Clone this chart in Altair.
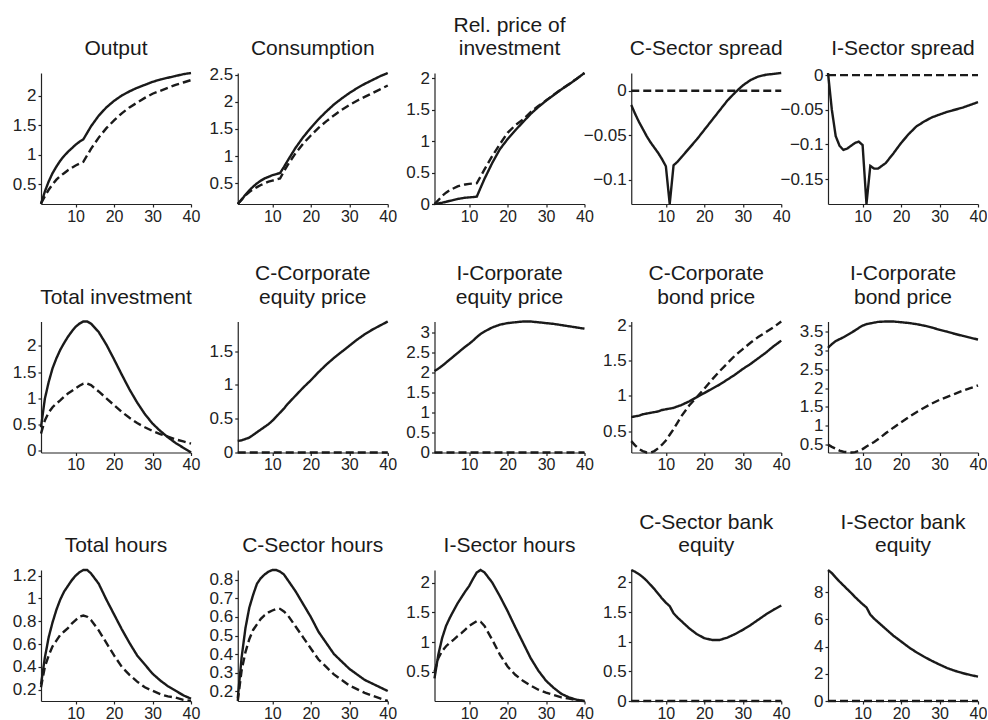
import altair as alt
import pandas as pd

# ---------------- data ----------------
T = [1, 2, 3, 4, 5, 6, 7, 8, 9, 10, 11, 12, 13, 14, 16, 18, 20, 22, 24, 26, 28, 30, 32, 34, 36, 38, 40]
ZERO = [0.0] * len(T)
X_TICKS = [10, 20, 30, 40]

output_solid = [0.17, 0.38, 0.55, 0.69, 0.80, 0.90, 0.98, 1.05, 1.11, 1.17, 1.22, 1.26, 1.37, 1.48, 1.66, 1.80, 1.91, 2.00, 2.07, 2.13, 2.18, 2.23, 2.27, 2.30, 2.33, 2.36, 2.38]
output_dashed = [0.18, 0.30, 0.41, 0.50, 0.58, 0.64, 0.69, 0.74, 0.78, 0.82, 0.85, 0.88, 0.99, 1.10, 1.29, 1.45, 1.58, 1.70, 1.80, 1.88, 1.96, 2.03, 2.08, 2.13, 2.18, 2.22, 2.26]

consumption_solid = [0.12, 0.20, 0.29, 0.37, 0.44, 0.50, 0.55, 0.59, 0.62, 0.65, 0.67, 0.69, 0.80, 0.92, 1.15, 1.35, 1.52, 1.68, 1.82, 1.95, 2.06, 2.16, 2.25, 2.33, 2.40, 2.47, 2.53]
consumption_dashed = [0.12, 0.20, 0.28, 0.34, 0.39, 0.43, 0.47, 0.50, 0.53, 0.55, 0.57, 0.59, 0.72, 0.84, 1.05, 1.23, 1.38, 1.52, 1.64, 1.75, 1.85, 1.94, 2.02, 2.09, 2.16, 2.23, 2.30]

relprice_solid = [0.0, 0.01, 0.02, 0.035, 0.05, 0.065, 0.08, 0.09, 0.10, 0.105, 0.11, 0.117, 0.26, 0.40, 0.65, 0.87, 1.03, 1.17, 1.30, 1.43, 1.54, 1.64, 1.73, 1.82, 1.90, 1.99, 2.08]
relprice_dashed = [0.0, 0.06, 0.13, 0.18, 0.22, 0.25, 0.28, 0.30, 0.31, 0.32, 0.325, 0.33, 0.44, 0.55, 0.76, 0.95, 1.13, 1.25, 1.34, 1.46, 1.555, 1.645, 1.735, 1.825, 1.905, 1.99, 2.08]

cspread_solid = [-0.016, -0.026, -0.035, -0.043, -0.051, -0.058, -0.064, -0.070, -0.077, -0.085, -0.1275, -0.084, -0.080, -0.075, -0.065, -0.055, -0.044, -0.033, -0.022, -0.011, -0.002, 0.006, 0.012, 0.016, 0.018, 0.019, 0.020]
cspread_dashed = ZERO

ispread_solid = [0.003, -0.050, -0.088, -0.102, -0.108, -0.106, -0.102, -0.098, -0.096, -0.101, -0.186, -0.131, -0.135, -0.135, -0.127, -0.113, -0.098, -0.085, -0.074, -0.067, -0.061, -0.057, -0.053, -0.050, -0.047, -0.043, -0.039]
ispread_dashed = ZERO

totinv_solid = [0.45, 0.99, 1.31, 1.57, 1.76, 1.92, 2.05, 2.17, 2.27, 2.36, 2.42, 2.46, 2.46, 2.42, 2.26, 2.02, 1.74, 1.45, 1.17, 0.92, 0.70, 0.52, 0.38, 0.26, 0.15, 0.06, -0.03]
totinv_dashed = [0.33, 0.58, 0.73, 0.83, 0.90, 0.96, 1.03, 1.09, 1.14, 1.19, 1.24, 1.28, 1.28, 1.25, 1.13, 1.00, 0.87, 0.74, 0.63, 0.53, 0.45, 0.38, 0.32, 0.27, 0.22, 0.18, 0.14]

ceq_solid = [0.17, 0.18, 0.20, 0.22, 0.26, 0.30, 0.34, 0.38, 0.42, 0.47, 0.53, 0.59, 0.65, 0.72, 0.84, 0.96, 1.07, 1.19, 1.30, 1.40, 1.49, 1.58, 1.67, 1.75, 1.82, 1.88, 1.94]
ceq_dashed = ZERO

ieq_solid = [2.04, 2.10, 2.17, 2.25, 2.33, 2.41, 2.49, 2.57, 2.65, 2.72, 2.80, 2.89, 2.97, 3.03, 3.13, 3.20, 3.24, 3.26, 3.28, 3.28, 3.26, 3.24, 3.22, 3.19, 3.16, 3.13, 3.10]
ieq_dashed = ZERO

cbond_solid = [0.70, 0.71, 0.72, 0.74, 0.75, 0.76, 0.77, 0.78, 0.80, 0.81, 0.82, 0.83, 0.85, 0.87, 0.92, 0.98, 1.04, 1.10, 1.16, 1.23, 1.30, 1.38, 1.45, 1.53, 1.61, 1.70, 1.78]
cbond_dashed = [0.36, 0.30, 0.25, 0.22, 0.20, 0.20, 0.22, 0.26, 0.31, 0.37, 0.45, 0.53, 0.62, 0.71, 0.86, 0.98, 1.10, 1.23, 1.35, 1.46, 1.57, 1.66, 1.75, 1.83, 1.90, 1.97, 2.05]

ibond_solid = [3.07, 3.17, 3.25, 3.30, 3.35, 3.41, 3.47, 3.53, 3.60, 3.66, 3.70, 3.72, 3.74, 3.76, 3.77, 3.77, 3.75, 3.73, 3.70, 3.66, 3.61, 3.55, 3.50, 3.44, 3.39, 3.34, 3.29]
ibond_dashed = [0.50, 0.44, 0.39, 0.34, 0.31, 0.30, 0.29, 0.30, 0.33, 0.38, 0.45, 0.51, 0.57, 0.64, 0.80, 0.95, 1.09, 1.23, 1.36, 1.48, 1.59, 1.69, 1.77, 1.85, 1.93, 2.00, 2.07]

tothours_solid = [0.245, 0.48, 0.66, 0.79, 0.90, 0.99, 1.06, 1.11, 1.16, 1.20, 1.23, 1.25, 1.25, 1.22, 1.13, 0.99, 0.86, 0.73, 0.61, 0.50, 0.42, 0.34, 0.28, 0.23, 0.19, 0.15, 0.12]
tothours_dashed = [0.22, 0.40, 0.50, 0.58, 0.63, 0.68, 0.71, 0.74, 0.78, 0.81, 0.84, 0.85, 0.84, 0.81, 0.72, 0.61, 0.50, 0.40, 0.33, 0.27, 0.22, 0.19, 0.16, 0.14, 0.13, 0.11, 0.10]

chours_solid = [0.16, 0.38, 0.54, 0.65, 0.72, 0.78, 0.81, 0.83, 0.845, 0.854, 0.854, 0.845, 0.83, 0.80, 0.74, 0.67, 0.60, 0.52, 0.46, 0.40, 0.36, 0.32, 0.29, 0.26, 0.24, 0.22, 0.20]
chours_dashed = [0.146, 0.31, 0.41, 0.48, 0.53, 0.56, 0.59, 0.61, 0.625, 0.635, 0.644, 0.644, 0.63, 0.61, 0.55, 0.49, 0.43, 0.37, 0.33, 0.29, 0.26, 0.23, 0.21, 0.19, 0.175, 0.16, 0.146]

ihours_solid = [0.39, 0.79, 1.07, 1.27, 1.41, 1.53, 1.65, 1.75, 1.85, 1.94, 2.06, 2.17, 2.21, 2.17, 2.00, 1.77, 1.52, 1.25, 0.99, 0.73, 0.52, 0.35, 0.23, 0.13, 0.07, 0.03, 0.01]
ihours_dashed = [0.50, 0.73, 0.85, 0.93, 0.99, 1.04, 1.10, 1.15, 1.21, 1.27, 1.31, 1.35, 1.34, 1.27, 1.04, 0.79, 0.59, 0.45, 0.35, 0.27, 0.20, 0.15, 0.11, 0.07, 0.05, 0.02, 0.01]

cbank_solid = [2.21, 2.18, 2.14, 2.09, 2.03, 1.96, 1.89, 1.81, 1.73, 1.66, 1.60, 1.48, 1.41, 1.35, 1.23, 1.13, 1.06, 1.03, 1.03, 1.07, 1.13, 1.20, 1.28, 1.37, 1.46, 1.54, 1.61]
cbank_dashed = ZERO

ibank_solid = [9.63, 9.40, 9.08, 8.78, 8.50, 8.22, 7.95, 7.65, 7.38, 7.12, 6.88, 6.35, 6.05, 5.80, 5.30, 4.80, 4.38, 3.95, 3.58, 3.25, 2.95, 2.68, 2.42, 2.22, 2.05, 1.91, 1.79]
ibank_dashed = ZERO

TITLES = [
    "Output", "Consumption", "Rel. price of\ninvestment", "C-Sector spread", "I-Sector spread",
    "Total investment", "C-Corporate\nequity price", "I-Corporate\nequity price", "C-Corporate\nbond price", "I-Corporate\nbond price",
    "Total hours", "C-Sector hours", "I-Sector hours", "C-Sector bank\nequity", "I-Sector bank\nequity",
]
SOLIDS = [output_solid, consumption_solid, relprice_solid, cspread_solid, ispread_solid,
          totinv_solid, ceq_solid, ieq_solid, cbond_solid, ibond_solid,
          tothours_solid, chours_solid, ihours_solid, cbank_solid, ibank_solid]
DASHEDS = [output_dashed, consumption_dashed, relprice_dashed, cspread_dashed, ispread_dashed,
           totinv_dashed, ceq_dashed, ieq_dashed, cbond_dashed, ibond_dashed,
           tothours_dashed, chours_dashed, ihours_dashed, cbank_dashed, ibank_dashed]
Y_TICKS = [
    [0.5, 1, 1.5, 2], [0.5, 1, 1.5, 2, 2.5], [0, 0.5, 1, 1.5, 2], [-0.1, -0.05, 0], [-0.15, -0.1, -0.05, 0],
    [0, 0.5, 1, 1.5, 2], [0, 0.5, 1, 1.5], [0, 0.5, 1, 1.5, 2, 2.5, 3], [0.5, 1, 1.5, 2], [0.5, 1, 1.5, 2, 2.5, 3, 3.5],
    [0.2, 0.4, 0.6, 0.8, 1, 1.2], [0.2, 0.3, 0.4, 0.5, 0.6, 0.7, 0.8], [0, 0.5, 1, 1.5, 2], [0, 0.5, 1, 1.5, 2], [0, 2, 4, 6, 8],
]

INK = "#1a1a1a"
FONT = "Liberation Sans"
W, H = 150, 131
TITLE_SIZE, TITLE_LH = 21, 23.5


def panel(title, solid, dashed, yticks):
    n = len(T)
    df = pd.DataFrame({
        "t": T + T,
        "v": solid + dashed,
        "s": ["solid"] * n + ["dashed"] * n,
    })
    lines = alt.Chart(df).mark_line(color=INK, strokeWidth=2.4).encode(
        x=alt.X("t:Q", scale=alt.Scale(domain=[1, 40], nice=False, zero=False),
                axis=alt.Axis(values=X_TICKS, title=None, labelFlush=False,
                              labelFontSize=16, labelPadding=1)),
        y=alt.Y("v:Q", scale=alt.Scale(zero=False, nice=False),
                axis=alt.Axis(values=yticks, format="~g", title=None,
                              labelFontSize=17, labelPadding=2)),
        strokeDash=alt.StrokeDash("s:N", scale=alt.Scale(domain=["solid", "dashed"],
                                                         range=[[1, 0], [8, 4]]),
                                  legend=None),
    )
    n_lines = title.count("\n") + 1
    ttl = alt.Chart(pd.DataFrame({"label": [title]})).mark_text(
        font=FONT, fontSize=TITLE_SIZE, color=INK, lineBreak="\n", lineHeight=TITLE_LH,
        align="center", baseline="alphabetic",
    ).encode(text="label:N", x=alt.value(W / 2),
             y=alt.value(-18 - (n_lines - 1) * TITLE_LH))
    return alt.layer(lines, ttl).properties(width=W, height=H)


charts = [panel(t, s, d, y) for t, s, d, y in zip(TITLES, SOLIDS, DASHEDS, Y_TICKS)]

chart = alt.concat(
    *charts, columns=5, spacing={"row": 117.5, "column": 46.75}, bounds="flush"
).configure_view(stroke=None).configure_axis(
    grid=False, domainColor="#222", domainWidth=1.2, tickColor="#222", tickWidth=1.2,
    tickSize=3, labelColor="#222", labelFont=FONT,
).properties(padding={"left": 12, "top": 14, "right": 0, "bottom": 0})

chart.save("out.html", embed_options={"renderer": "svg", "actions": False})
